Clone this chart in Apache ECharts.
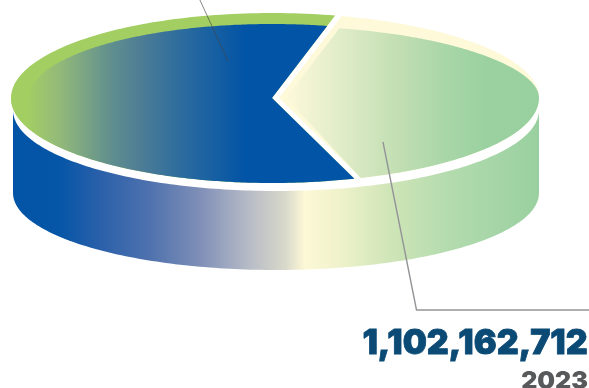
<!DOCTYPE html>
<html><head><meta charset="utf-8">
<style>html,body{margin:0;padding:0;background:#fff}#c{width:589px;height:388px}</style>
<script src="https://cdn.jsdelivr.net/npm/echarts@6/dist/echarts.min.js"></script>
</head><body><div id="c"></div>
<script>
const sliceNames = ['Other', '2023'];
const sliceValues = [1586000000, 1102162712];
const valueLabel = '1,102,162,712';
const yearLabel = '2023';

const chart = echarts.init(document.getElementById('c'), null, {renderer:'canvas'});
const total = sliceValues[0] + sliceValues[1];
const startDeg = 76;                     // upper cut; the 2023 slice runs clockwise from here
const sweep2023 = 360 * sliceValues[1] / total;
const rad = d => d * Math.PI / 180;
const deg = r => r * 180 / Math.PI;

function grad(x0, x1, stops) {
  return new echarts.graphic.LinearGradient(x0, 0, x1, 0,
    stops.map(s => ({offset: (s[0] - x0) / (x1 - x0), color: s[1]})), true);
}
function arc(cx, cy, rx, ry, a0, a1) {
  const out = [], n = 160;
  for (let i = 0; i <= n; i++) {
    const a = rad(a0 + (a1 - a0) * i / n);
    out.push([cx + rx * Math.cos(a), cy - ry * Math.sin(a)]);
  }
  return out;
}
// Where a cut, leaving the tip at slice angle `d`, meets the ellipse (ex, rx, ry): ellipse parameter in degrees.
function hit(tipX, d, ex, rx, ry) {
  const dx = Math.cos(rad(d)) * 261 / rx, dy = Math.sin(rad(d)) * 85 / ry, ox = (tipX - ex) / rx;
  const a = dx * dx + dy * dy, b = 2 * ox * dx, c = ox * ox - 1;
  const s = (-b + Math.sqrt(b * b - 4 * a * c)) / (2 * a);
  return deg(Math.atan2(s * dy, ox + s * dx));
}
const poly = (points, fill) => ({type:'polygon', shape:{points}, style:{fill}, silent:true});

function renderSide() {
  const top = arc(276, 110, 263, 81, 180, 360);
  const bot = arc(276, 193, 263, 77, 360, 180);
  return poly(top.concat(bot), grad(13, 539, [
    [13,'#0254a6'],[60,'#0656a7'],[100,'#2a60aa'],[150,'#4f72ae'],[200,'#7f8fb7'],[250,'#b8bcc7'],
    [285,'#d8d8ca'],[305,'#fdf8d6'],[340,'#eff2cb'],[390,'#cfe5b7'],[450,'#b3dbae'],[539,'#99d0a0']]));
}

function renderSlice(params, api) {
  const cy = 98, outerRy = 85;
  const lowerDeg = startDeg - sweep2023;   // lower cut
  if (params.dataIndex === 0) {            // left slice
    const cx = 272, rx = 261;
    const a0 = hit(cx, startDeg, cx, rx, outerRy), a1 = 360 + hit(cx, lowerDeg, cx, rx, outerRy);
    const rim = [[cx, cy]].concat(arc(cx, cy, rx, outerRy, a0, a1));
    const innerTop = arc(cx, cy, 243, 74, hit(cx, startDeg, cx, 243, 74), 180);
    const lower = arc(cx, cy, rx, outerRy, 180, a1);
    return {type:'group', children:[
      poly(rim, '#a3cf62'),
      poly([[cx, cy]].concat(innerTop, lower), grad(26, 245, [
        [26,'#a3cf62'],[60,'#93b97a'],[110,'#61908e'],[135,'#528094'],[180,'#2d6c9e'],[245,'#0254a6']]))
    ]};
  }
  // right slice, pulled out from the centre
  const tip = 279, ex = 270, rx = 269, tipIn = 286, exIn = 275, rxIn = 258, ryIn = 72;
  const aT = hit(tip, startDeg, ex, rx, outerRy), aL = hit(tip, lowerDeg, ex, rx, outerRy);
  const rim = [[tip, cy]].concat(arc(ex, cy, rx, outerRy, aT, aL));
  // the inner edge narrows to a point where it meets the rim on the right
  const innerTop = arc(exIn, cy, rxIn, ryIn, hit(tipIn, startDeg, exIn, rxIn, ryIn), 0)
    .map(p => [p[0] + 6 * Math.pow((p[0] - exIn) / rxIn, 8), p[1]]);
  const lower = arc(ex, cy, rx, outerRy, 0, aL);
  return {type:'group', children:[
    poly(rim, '#fdf9d9'),
    poly([[tipIn, cy]].concat(innerTop, lower), grad(290, 539, [
      [290,'#fbf8d8'],[340,'#e1ecc8'],[400,'#c1deb2'],[445,'#a9d6a8'],[485,'#9bd1a0'],[539,'#99d0a0']]))
  ]};
}

function renderLeaders() {
  const line = (points, stroke, lw) => ({type:'polyline', shape:{points},
    style:{stroke, lineWidth:lw, fill:null}, silent:true});
  return {type:'group', children:[
    line([[199,-2],[228,61]], 'rgba(70,70,72,.65)', 1),
    line([[383,142],[416.5,310],[589,310]], '#939598', 1.4)
  ]};
}

chart.setOption({
  animation:false,
  backgroundColor:'#fff',
  title:[
    {text:valueLabel, right:0.5, top:323, padding:0,
     textStyle:{fontFamily:'Inter', fontWeight:900, fontSize:34, color:'#0b4a75', lineHeight:42,
                textBorderColor:'#0b4a75', textBorderWidth:0.8}},
    {text:yearLabel, right:1, top:367, padding:0,
     textStyle:{fontFamily:'Inter', fontWeight:900, fontSize:25, color:'#58595b', lineHeight:28}}
  ],
  series:[
    {type:'custom', coordinateSystem:'none', silent:true, clip:false, z:1,
     data:[[total]], renderItem:renderSide},
    {type:'custom', coordinateSystem:'none', silent:true, clip:false, z:2,
     data:sliceValues.map((v,i)=>({name:sliceNames[i], value:[v]})), renderItem:renderSlice},
    {type:'custom', coordinateSystem:'none', silent:true, clip:false, z:3,
     data:[[1]], renderItem:renderLeaders}
  ]
});
</script></body></html>
